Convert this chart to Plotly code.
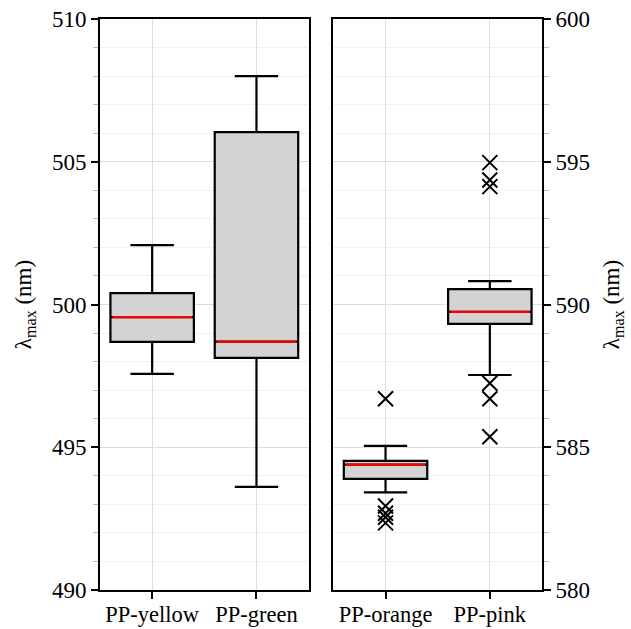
import plotly.graph_objects as go
from plotly.subplots import make_subplots

# Absorption maximum summary statistics (nm)
left_names = ["PP-yellow", "PP-green"]
left_q1 = [498.69, 498.13]
left_median = [499.56, 498.70]
left_q3 = [500.40, 506.04]
left_low = [497.57, 493.61]
left_high = [502.08, 508.00]
left_outliers = [[], []]

right_names = ["PP-orange", "PP-pink"]
right_q1 = [583.89, 589.32]
right_median = [584.39, 589.74]
right_q3 = [584.52, 590.54]
right_low = [583.42, 587.53]
right_high = [585.05, 590.82]
right_outliers = [
    [586.70, 582.94, 582.69, 582.55, 582.35],
    [594.97, 594.36, 594.13, 587.24, 586.70, 585.37],
]

BOX_W = 0.8
FONT = "Liberation Serif"

fig = make_subplots(rows=1, cols=2, horizontal_spacing=0.056)


def add_group(col, names, q1, med, q3, low, high, outl):
    xs = list(range(len(names)))
    fig.add_trace(go.Box(
        x=xs, q1=q1, median=med, q3=q3, lowerfence=low, upperfence=high,
        width=BOX_W, whiskerwidth=0.52, boxpoints=False,
        fillcolor="#d3d3d3", line=dict(color="black", width=2.2),
        showlegend=False, hoverinfo="skip",
    ), row=1, col=col)
    # red median lines
    for i, m in zip(xs, med):
        fig.add_trace(go.Scatter(
            x=[i - BOX_W / 2 + 0.02, i + BOX_W / 2 - 0.02], y=[m, m],
            mode="lines", line=dict(color="red", width=2.2),
            showlegend=False, hoverinfo="skip",
        ), row=1, col=col)
    # outliers
    for i, pts in zip(xs, outl):
        if pts:
            fig.add_trace(go.Scatter(
                x=[i] * len(pts), y=pts, mode="markers",
                marker=dict(symbol="x-thin-open", size=15, color="black",
                            line=dict(color="black", width=2)),
                showlegend=False, hoverinfo="skip",
            ), row=1, col=col)


add_group(1, left_names, left_q1, left_median, left_q3, left_low, left_high, left_outliers)
add_group(2, right_names, right_q1, right_median, right_q3, right_low, right_high, right_outliers)

xaxis_common = dict(
    range=[-0.5, 1.5], tickvals=[0, 1], showline=True, linecolor="black",
    linewidth=2, mirror=True, ticks="outside", ticklen=7, tickwidth=2,
    tickcolor="black", showgrid=True, gridcolor="#dddddd", gridwidth=1,
    zeroline=False, automargin=False, ticklabelstandoff=-4,
    tickfont=dict(family=FONT, size=22.5, color="black"),
)
yaxis_common = dict(
    dtick=5, showline=True, linecolor="black", linewidth=2, mirror=True,
    ticks="outside", ticklen=7, tickwidth=2, tickcolor="black",
    showgrid=True, gridcolor="#dddddd", gridwidth=1, zeroline=False,
    automargin=False,
    tickfont=dict(family=FONT, size=23, color="black"),
    minor=dict(dtick=1, showgrid=True, gridcolor="#f1f1f1", gridwidth=1,
               ticks="outside", ticklen=5, tickcolor="#bbbbbb", tickwidth=1),
    title=dict(text="λ<sub>max</sub> (nm)", font=dict(family=FONT, size=23, color="black"),
               standoff=14),
)

fig.update_xaxes(ticktext=left_names, row=1, col=1, **xaxis_common)
fig.update_xaxes(ticktext=right_names, row=1, col=2, **xaxis_common)
fig.update_yaxes(range=[490, 510], row=1, col=1, **yaxis_common)
fig.update_yaxes(range=[580, 600], side="right", row=1, col=2, **yaxis_common)

fig.update_layout(
    width=631, height=629,
    margin=dict(l=100, r=89, t=19, b=39),
    plot_bgcolor="white", paper_bgcolor="white",
    font=dict(family=FONT, color="black"),
)

fig.write_html("out.html")
